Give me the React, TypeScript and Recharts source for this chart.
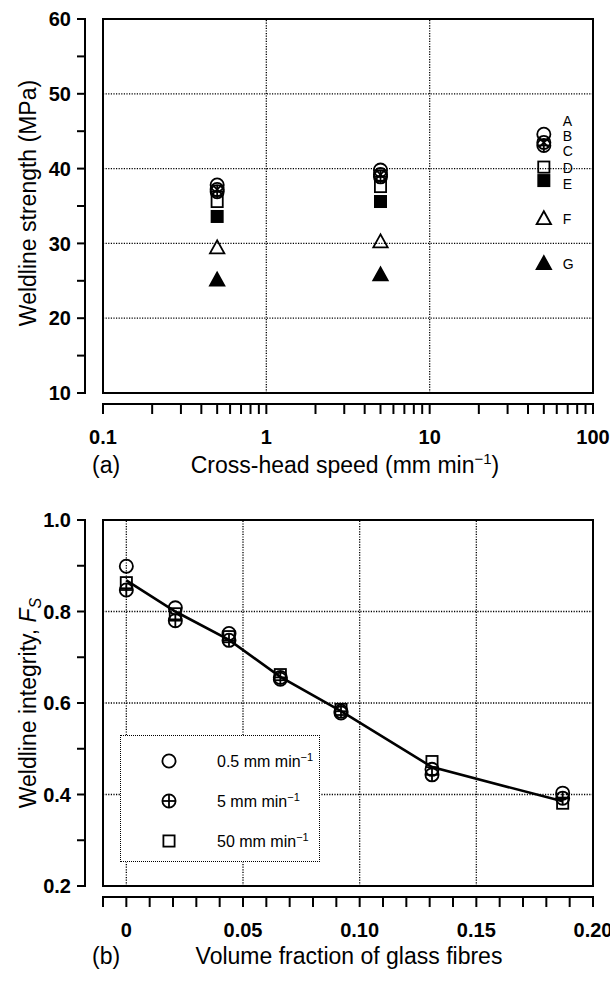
import React from 'react';
import { ScatterChart, Scatter, XAxis, YAxis, ReferenceLine, ReferenceArea, Legend } from 'recharts';

const FONT = '"Liberation Sans", Arial, Helvetica, sans-serif';
const INK = '#000';

// (a) weldline strength vs cross-head speed, grades A-G
const speeds = [0.5, 5, 50];
const strengthA = [37.8, 39.8, 44.6];
const strengthB = [37.2, 39.2, 43.5];
const strengthC = [36.9, 38.9, 43.1];
const strengthD = [35.6, 37.6, 40.2];
const strengthE = [33.6, 35.6, 38.4];
const strengthF = [29.4, 30.2, 33.3];
const strengthG = [25.1, 25.8, 27.3];

// (b) weldline integrity vs volume fraction of glass fibres
const fractions = [0, 0.021, 0.044, 0.066, 0.092, 0.131, 0.187];
const integritySlow = [0.899, 0.808, 0.752, 0.652, 0.578, 0.455, 0.403];
const integrityMid = [0.847, 0.78, 0.737, 0.656, 0.582, 0.443, 0.392];
const integrityFast = [0.863, 0.795, 0.745, 0.662, 0.586, 0.472, 0.381];
const integrityFit = [0.868, 0.8, 0.738, 0.657, 0.582, 0.46, 0.385];
const rateNames = ['0.5', '5', '50'];

// axis ticks and their printed labels
const strengthTicks = [10, 15, 20, 25, 30, 35, 40, 45, 50, 55, 60];
const strengthMajor = [10, 20, 30, 40, 50, 60];
const strengthLabels = ['10', '20', '30', '40', '50', '60'];
const speedTicks = [
  0.1, 0.2, 0.3, 0.4, 0.5, 0.6, 0.7, 0.8, 0.9,
  1, 2, 3, 4, 5, 6, 7, 8, 9,
  10, 20, 30, 40, 50, 60, 70, 80, 90, 100,
];
const speedMajor = [0.1, 1, 10, 100];
const speedLabels = ['0.1', '1', '10', '100'];
const integrityTicks = [0.2, 0.3, 0.4, 0.5, 0.6, 0.7, 0.8, 0.9, 1.0];
const integrityMajor = [0.2, 0.4, 0.6, 0.8, 1.0];
const integrityLabels = ['0.2', '0.4', '0.6', '0.8', '1.0'];
const fractionTicks = [
  -0.01, 0, 0.01, 0.02, 0.03, 0.04, 0.05, 0.06, 0.07, 0.08, 0.09, 0.1,
  0.11, 0.12, 0.13, 0.14, 0.15, 0.16, 0.17, 0.18, 0.19, 0.2,
];
const fractionMajor = [0, 0.05, 0.1, 0.15, 0.2];
const fractionLabels = ['0', '0.05', '0.10', '0.15', '0.20'];

const W = 610;
const PLOT_LEFT = 103;
const PLOT_RIGHT = 593;
const AXIS_X = 85; // detached y axis
const A_H = 490;
const A_TOP = 19;
const A_BOTTOM = 393;
const B_H = 491;
const B_TOP = 30;
const B_BOTTOM = 396;

const labelOf = (v: number, majors: number[], labels: string[]) => {
  const i = majors.findIndex((m) => Math.abs(m - v) < 1e-9);
  return i < 0 ? null : labels[i];
};

type MarkerKind = 'circle' | 'circleX' | 'circlePlus' | 'square' | 'squareFill' | 'triangle' | 'triangleFill';

const Marker = ({ kind, cx, cy }: { kind: MarkerKind; cx: number; cy: number }) => {
  const sw = 1.8;
  const r = 6.6;
  if (kind === 'circle') return <circle cx={cx} cy={cy} r={r} fill="none" stroke={INK} strokeWidth={sw} />;
  if (kind === 'circleX') {
    const d = r * 0.7;
    return (
      <g stroke={INK} strokeWidth={sw} fill="none">
        <circle cx={cx} cy={cy} r={r} />
        <line x1={cx - d} y1={cy - d} x2={cx + d} y2={cy + d} />
        <line x1={cx - d} y1={cy + d} x2={cx + d} y2={cy - d} />
      </g>
    );
  }
  if (kind === 'circlePlus')
    return (
      <g stroke={INK} strokeWidth={sw} fill="none">
        <circle cx={cx} cy={cy} r={r} />
        <line x1={cx - r} y1={cy} x2={cx + r} y2={cy} />
        <line x1={cx} y1={cy - r} x2={cx} y2={cy + r} />
      </g>
    );
  if (kind === 'square' || kind === 'squareFill') {
    const h = 5.6;
    return (
      <rect x={cx - h} y={cy - h} width={2 * h} height={2 * h}
        fill={kind === 'squareFill' ? INK : 'none'} stroke={INK} strokeWidth={sw} />
    );
  }
  const pts = `${cx},${cy - 7.5} ${cx - 7.2},${cy + 5.5} ${cx + 7.2},${cy + 5.5}`;
  return <polygon points={pts} fill={kind === 'triangleFill' ? INK : 'none'} stroke={INK} strokeWidth={sw} />;
};

// labelDy nudges the grade letter printed beside the 50 mm/min point
const gradeSeries: { name: string; values: number[]; marker: MarkerKind; labelDy: number }[] = [
  { name: 'A', values: strengthA, marker: 'circle', labelDy: -13 },
  { name: 'B', values: strengthB, marker: 'circleX', labelDy: -6.5 },
  { name: 'C', values: strengthC, marker: 'circlePlus', labelDy: 5.5 },
  { name: 'D', values: strengthD, marker: 'square', labelDy: 0.5 },
  { name: 'E', values: strengthE, marker: 'squareFill', labelDy: 3 },
  { name: 'F', values: strengthF, marker: 'triangle', labelDy: 0 },
  { name: 'G', values: strengthG, marker: 'triangleFill', labelDy: 0 },
];

const rateSeries: { name: string; values: number[]; marker: MarkerKind }[] = [
  { name: rateNames[0], values: integritySlow, marker: 'circle' },
  { name: rateNames[1], values: integrityMid, marker: 'circlePlus' },
  { name: rateNames[2], values: integrityFast, marker: 'square' },
];

const tickText = { fontFamily: FONT, fontSize: 20, fontWeight: 700, fill: INK };
const titleText = { fontFamily: FONT, fontSize: 23, fill: INK };

// y ticks drawn on a detached axis line left of the frame
const makeYTick = (top: number, bottom: number, majors: number[], labels: string[]) => (props: any) => {
  const { y, payload, index } = props;
  const label = labelOf(payload.value, majors, labels);
  return (
    <g>
      {index === 0 && <line x1={AXIS_X} x2={AXIS_X} y1={top - 1} y2={bottom + 1} stroke={INK} strokeWidth={2} />}
      <line x1={AXIS_X - 8} x2={AXIS_X} y1={y} y2={y} stroke={INK} strokeWidth={2} />
      {label && (
        <text x={AXIS_X - 14} y={y} dy="0.36em" textAnchor="end" {...tickText}>{label}</text>
      )}
    </g>
  );
};

// x ticks drawn on a detached axis line below the frame
const makeXTick = (axisY: number, majors: number[], labels: string[]) => (props: any) => {
  const { x, payload, index } = props;
  const label = labelOf(payload.value, majors, labels);
  return (
    <g>
      {index === 0 && <line x1={PLOT_LEFT - 1} x2={PLOT_RIGHT + 1} y1={axisY} y2={axisY} stroke={INK} strokeWidth={2} />}
      <line x1={x} x2={x} y1={axisY} y2={axisY + 10} stroke={INK} strokeWidth={2} />
      {label && (
        <text x={x} y={axisY + 33} dy="0.36em" textAnchor="middle" {...tickText}>{label}</text>
      )}
    </g>
  );
};

const strengthTick = makeYTick(A_TOP, A_BOTTOM, strengthMajor, strengthLabels);
const speedTick = makeXTick(A_BOTTOM + 11, speedMajor, speedLabels);
const integrityTick = makeYTick(B_TOP, B_BOTTOM, integrityMajor, integrityLabels);
const fractionTick = makeXTick(B_BOTTOM + 11, fractionMajor, fractionLabels);

const strengthTitle = () => (
  <text transform="rotate(-90)" x={-203} y={36} textAnchor="middle" {...titleText}>
    Weldline strength (MPa)
  </text>
);

const speedTitle = () => (
  <g>
    <text x={92} y={A_BOTTOM + 80} {...titleText}>(a)</text>
    <text x={345} y={A_BOTTOM + 80} textAnchor="middle" {...titleText}>
      Cross-head speed (mm min<tspan dy={-9} fontSize={15}>−1</tspan>
      <tspan dy={9}>)</tspan>
    </text>
  </g>
);

const integrityTitle = () => (
  <text transform="rotate(-90)" x={-(B_TOP + B_BOTTOM) / 2} y={36} textAnchor="middle" {...titleText}>
    Weldline integrity, <tspan fontStyle="italic">F</tspan>
    <tspan fontStyle="italic" fontSize={16} dy={5}>S</tspan>
  </text>
);

const fractionTitle = () => (
  <g>
    <text x={92} y={B_BOTTOM + 78} {...titleText}>(b)</text>
    <text x={349} y={B_BOTTOM + 78} textAnchor="middle" {...titleText}>Volume fraction of glass fibres</text>
  </g>
);

const gridStyle = { stroke: INK, strokeWidth: 1.3, strokeDasharray: '1.2 1.4' };

const RateLegend = () => (
  <div
    style={{
      boxSizing: 'border-box', width: 200, height: 127, border: '1.5px dotted #000',
      background: '#fff', padding: '5px 0 0 0', fontFamily: FONT, fontSize: 16,
    }}
  >
    {rateSeries.map((s) => (
      <div key={s.name} style={{ display: 'flex', alignItems: 'center', height: 40 }}>
        <svg width={96} height={24} style={{ flex: 'none' }}>
          <Marker kind={s.marker} cx={48} cy={12} />
        </svg>
        <span>
          {s.name} mm min<sup style={{ fontSize: 11 }}>−1</sup>
        </span>
      </div>
    ))}
  </div>
);

const App = () => {
  const lastSpeed = speeds[speeds.length - 1];
  return (
    <div style={{ position: 'absolute', left: 0, top: 0, width: W, height: 981, background: '#fff' }}>
      <div style={{ position: 'absolute', left: 0, top: 0 }}>
        <ScatterChart width={W} height={A_H} margin={{ top: A_TOP, right: W - PLOT_RIGHT, bottom: 0, left: 0 }}>
          <XAxis dataKey="speed" type="number" scale="log" domain={[0.1, 100]} allowDataOverflow
            ticks={speedTicks} interval={0} axisLine={false} tickLine={false} height={A_H - A_BOTTOM}
            tick={speedTick} label={speedTitle} />
          <YAxis dataKey="value" type="number" domain={[10, 60]} allowDataOverflow
            ticks={strengthTicks} interval={0} axisLine={false} tickLine={false} width={PLOT_LEFT}
            tick={strengthTick} label={strengthTitle} />
          {[20, 30, 40, 50].map((v) => <ReferenceLine key={`h${v}`} y={v} {...gridStyle} />)}
          {[1, 10].map((v) => <ReferenceLine key={`v${v}`} x={v} {...gridStyle} />)}
          <ReferenceArea x1={0.1} x2={100} y1={10} y2={60} fill="none" stroke={INK} strokeWidth={2} />
          {gradeSeries.map((s) => (
            <Scatter
              key={s.name}
              name={s.name}
              data={speeds.map((sp, i) => ({ speed: sp, value: s.values[i] }))}
              isAnimationActive={false}
              shape={(p: any) => (
                <g>
                  <Marker kind={s.marker} cx={p.cx} cy={p.cy} />
                  {p.payload.speed === lastSpeed && (
                    <text x={p.cx + 19} y={p.cy + s.labelDy} dy="0.36em" fontFamily={FONT} fontSize={14} fill={INK}>
                      {s.name}
                    </text>
                  )}
                </g>
              )}
            />
          ))}
        </ScatterChart>
      </div>

      <div style={{ position: 'absolute', left: 0, top: A_H }}>
        <ScatterChart width={W} height={B_H} margin={{ top: B_TOP, right: W - PLOT_RIGHT, bottom: 0, left: 0 }}>
          <XAxis dataKey="fraction" type="number" domain={[-0.01, 0.2]} allowDataOverflow
            ticks={fractionTicks} interval={0} axisLine={false} tickLine={false} height={B_H - B_BOTTOM}
            tick={fractionTick} label={fractionTitle} />
          <YAxis dataKey="value" type="number" domain={[0.2, 1.0]} allowDataOverflow
            ticks={integrityTicks} interval={0} axisLine={false} tickLine={false} width={PLOT_LEFT}
            tick={integrityTick} label={integrityTitle} />
          {[0.4, 0.6, 0.8].map((v) => <ReferenceLine key={`h${v}`} y={v} {...gridStyle} />)}
          {[0, 0.05, 0.1, 0.15].map((v) => <ReferenceLine key={`v${v}`} x={v} {...gridStyle} />)}
          <ReferenceArea x1={-0.01} x2={0.2} y1={0.2} y2={1.0} fill="none" stroke={INK} strokeWidth={2} />
          {rateSeries.map((s) => (
            <Scatter
              key={s.name}
              name={s.name}
              data={fractions.map((f, i) => ({ fraction: f, value: s.values[i] }))}
              isAnimationActive={false}
              shape={(p: any) => <Marker kind={s.marker} cx={p.cx} cy={p.cy} />}
            />
          ))}
          <Scatter
            name="fit"
            data={fractions.map((f, i) => ({ fraction: f, value: integrityFit[i] }))}
            isAnimationActive={false}
            line={{ stroke: INK, strokeWidth: 2.6 }}
            shape={() => <g />}
          />
          <Legend
            layout="horizontal"
            verticalAlign="middle"
            align="center"
            wrapperStyle={{ position: 'absolute', left: 120, top: 245, width: 200, height: 127 }}
            content={() => <RateLegend />}
          />
        </ScatterChart>
      </div>
    </div>
  );
};

export default App;
